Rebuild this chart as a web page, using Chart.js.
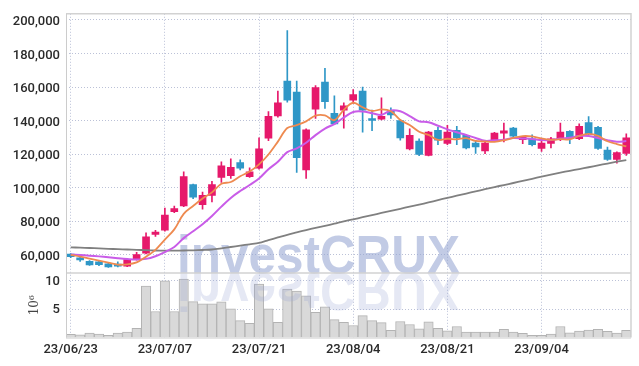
<!DOCTYPE html>
<html><head><meta charset="utf-8">
<script src="https://cdn.jsdelivr.net/npm/chart.js@4.4.0/dist/chart.umd.min.js"></script>
<style>html,body{margin:0;padding:0;background:#fff;}#wrap{width:639px;height:366px;position:relative;}</style>
</head><body><div id="wrap"><canvas id="c" width="639" height="366" style="width:639px;height:366px"></canvas></div>
<script>
const dates = ['23/06/23','23/06/26','23/06/27','23/06/28','23/06/29','23/06/30','23/07/03','23/07/04','23/07/05','23/07/06',
'23/07/07','23/07/10','23/07/11','23/07/12','23/07/13','23/07/14','23/07/17','23/07/18','23/07/19','23/07/20',
'23/07/21','23/07/24','23/07/25','23/07/26','23/07/27','23/07/28','23/07/31','23/08/01','23/08/02','23/08/03',
'23/08/04','23/08/07','23/08/08','23/08/09','23/08/10','23/08/11','23/08/14','23/08/16','23/08/17','23/08/18',
'23/08/21','23/08/22','23/08/23','23/08/24','23/08/25','23/08/28','23/08/29','23/08/30','23/08/31','23/09/01',
'23/09/04','23/09/05','23/09/06','23/09/07','23/09/08','23/09/11','23/09/12','23/09/13','23/09/14','23/09/15'];
const tickDates = ['23/06/23','23/07/07','23/07/21','23/08/04','23/08/21','23/09/04'];
const opens = [60300,57600,56000,55600,54400,54300,53000,57100,60800,72000,74500,85600,89000,101800,89800,95300,106100,107100,114900,106500,111500,129400,142700,163500,157000,110500,146700,162900,144300,146200,152100,157600,141200,140800,145900,140000,123000,127700,119200,134100,126300,134100,131200,126600,121800,128600,132500,135500,128600,129000,123300,126300,128600,133500,129200,138800,136000,122400,116800,120400];
const highs = [60600,58300,56400,56200,54800,55600,57600,61300,72900,74400,87800,88900,109400,102000,97300,103700,115300,117200,116500,111800,129600,145300,157600,193700,163500,135000,160800,171200,154700,150600,158400,160000,146200,153500,147600,140500,135100,129000,133600,135900,137100,136500,131500,128200,127200,133000,138400,136000,130500,131500,127500,130000,138400,134000,138000,142300,136500,124200,121300,132000];
const lows = [58200,55900,53500,53400,52300,52600,52800,56600,60400,70800,74000,85000,88600,93300,87100,91400,103100,105500,110500,106000,111000,128000,142000,151000,109000,105500,141300,147200,137500,135500,150200,133000,133900,140400,141300,128200,122500,119000,118800,125600,125600,125600,123000,120400,120200,128000,127200,130000,126200,124800,121500,123600,128000,126200,128500,131500,122800,116200,114500,119200];
const closes = [58700,56800,53800,53900,52600,53100,57000,60000,70600,73400,83500,87500,106500,94300,95300,101800,113000,112000,111500,109400,123100,142500,150600,152100,117800,134500,159600,151200,138000,148800,155500,146200,140000,142500,143300,129600,131200,119800,133100,128200,133100,129600,123700,124300,126600,132500,133900,130600,130000,125600,126600,129000,133100,129200,136500,132100,123300,116800,120800,129600];
const volumes = [0.56,0.49,0.78,0.61,0.38,0.78,0.96,1.6,9.1,4.6,10.0,4.6,10.3,6.35,5.95,5.95,6.3,5.08,2.99,2.52,9.43,5.08,2.7,8.56,8.2,7.34,4.44,5.43,3.17,2.7,2.12,3.86,2.99,2.64,1.25,2.82,2.3,1.55,2.75,1.6,1.18,1.95,0.96,0.96,0.96,0.96,1.43,0.96,0.73,0.38,0.38,0.61,1.95,0.84,1.13,1.3,1.43,1.08,0.78,1.25];
const ma5 = [59800,58800,57600,56400,55200,54000,54100,55300,58700,62800,68900,75000,84300,89000,93400,97100,102200,103300,106700,109500,113800,119700,127400,135500,137200,139500,142900,143000,140200,146400,150600,147900,145700,146600,145500,140300,137300,133300,131400,128400,129100,128800,129500,127800,127500,127300,128200,129600,130700,130500,129300,128400,128900,128700,130900,132000,130800,127600,125900,124500];
const ma10 = [60000,59700,59300,58900,58400,57800,57300,57000,57400,59000,61500,64500,69800,73900,78100,83000,88600,93800,97900,101500,105400,110900,115400,121100,123400,126700,131300,135200,137900,141800,145100,145400,144400,143400,146000,145500,142600,139500,139000,136900,134700,133000,131400,129600,127900,128200,128500,129600,129300,129000,128300,128300,129200,129700,130700,130700,129600,128200,127300,127700];
const maLong = [64300,64100,63900,63700,63400,63200,63000,62800,62600,62400,62300,62300,62400,62500,62700,63000,63700,64500,65300,66100,66900,68600,70200,71800,73200,74600,75900,77100,78400,79800,81000,82300,83500,84800,86100,87300,88600,89800,91100,92500,93800,95100,96400,97700,99000,100300,101500,102700,104000,105200,106500,107700,108900,110000,111000,112100,113200,114300,115400,116400];
const priceTicks = [60000,80000,100000,120000,140000,160000,180000,200000];
const volTicks = [5,10];

const UP = '#e6196b', DOWN = '#2f97c7';
const candleColors = opens.map((o,i)=> closes[i] >= o ? UP : DOWN);
const gridColor = 'rgba(175,182,208,0.85)';
const tickFont = {family:'Roboto', size:13, weight:'500'};

const chrome = {
  id:'chrome',
  beforeDatasetsDraw(chart){
    const {ctx, chartArea:a} = chart;
    const base = chart.scales.yVol.top;
    ctx.save();
    ctx.font = 'bold 54px "Liberation Sans", Arial, sans-serif';
    const w = ctx.measureText('investCRUX').width;
    ctx.translate(a.left + 111, base);
    ctx.scale(283 / w, 1);
    ctx.fillStyle = 'rgba(150,165,210,0.58)';
    ctx.textBaseline = 'alphabetic';
    ctx.fillText('investCRUX', 0, 0);
    ctx.restore();
  },
  afterDatasetsDraw(chart){
    const {ctx, chartArea:a} = chart;
    const base = chart.scales.yVol.top;
    ctx.save();
    ctx.beginPath(); ctx.rect(a.left, base, a.width, a.bottom - base); ctx.clip();
    ctx.font = 'bold 54px "Liberation Sans", Arial, sans-serif';
    const w = ctx.measureText('investCRUX').width;
    ctx.translate(a.left + 111, base);
    ctx.scale(283 / w, -1);
    ctx.fillStyle = 'rgba(150,165,210,0.25)';
    ctx.fillText('investCRUX', 0, 0);
    ctx.restore();
  },
  afterDraw(chart){
    const {ctx, chartArea:a} = chart;
    const yv = chart.scales.yVol;
    ctx.save();
    ctx.strokeStyle = '#d2d2d2'; ctx.lineWidth = 1.5;
    ctx.beginPath(); ctx.moveTo(a.left, a.top); ctx.lineTo(a.right, a.top); ctx.lineTo(a.right, a.bottom); ctx.stroke();
    ctx.beginPath(); ctx.moveTo(a.left, yv.top); ctx.lineTo(a.right, yv.top); ctx.stroke();
    ctx.strokeStyle = '#cccccc'; ctx.lineWidth = 1;
    ctx.beginPath(); ctx.moveTo(a.left + 0.5, a.top); ctx.lineTo(a.left + 0.5, a.bottom); ctx.stroke();
    ctx.beginPath(); ctx.moveTo(a.left, a.bottom + 0.5); ctx.lineTo(a.right, a.bottom + 0.5); ctx.stroke();
    ctx.restore();
  }
};

new Chart(document.getElementById('c'), {
  type:'bar',
  data:{
    labels: dates,
    datasets:[
      {type:'line', label:'MA5', data: ma5, borderColor:'#ee8a50', borderWidth:1.8, pointRadius:0, tension:0.35, yAxisID:'y', order:1},
      {type:'line', label:'MA10', data: ma10, borderColor:'#c95ce8', borderWidth:2, pointRadius:0, tension:0.35, yAxisID:'y', order:1},
      {type:'line', label:'MA long', data: maLong, borderColor:'#808080', borderWidth:1.8, pointRadius:0, tension:0.3, yAxisID:'y', order:1},
      {label:'body', data: opens.map((o,i)=>[o, closes[i]]), backgroundColor: candleColors, barThickness:7, minBarLength:2, grouped:false, yAxisID:'y', order:2},
      {label:'wick', data: lows.map((l,i)=>[l, highs[i]]), backgroundColor: candleColors, barThickness:1, grouped:false, yAxisID:'y', order:3},
      {label:'volume', data: volumes, backgroundColor:'#d9d9d9', borderColor:'#b3b3b3', borderWidth:1, barPercentage:1, categoryPercentage:1, grouped:false, yAxisID:'yVol', order:5}
    ]
  },
  options:{
    responsive:false, animation:false,
    devicePixelRatio:1,
    layout:{padding:{top:9, right:8, left:0, bottom:0}},
    plugins:{legend:{display:false}, tooltip:{enabled:false}},
    scales:{
      x:{
        offset:true,
        grid:{offset:false, color:gridColor, drawTicks:false},
        border:{display:false, dash:[1,2]},
        ticks:{autoSkip:false, maxRotation:0, padding:4, font:tickFont, color:'#2a2a2a'},
        afterBuildTicks(s){ s.ticks = s.ticks.filter(t => tickDates.includes(dates[t.value])); },
        afterFit(s){ s.height = 28.5; }
      },
      yVol:{
        position:'left', stack:'panes', stackWeight:65.5,
        min:0, max:11.4,
        grid:{color:gridColor, drawTicks:false},
        border:{display:false, dash:[1,2]},
        ticks:{padding:6, font:tickFont, color:'#2a2a2a', labelOffset:1},
        afterBuildTicks(s){ s.ticks = volTicks.map(v=>({value:v})); },
        title:{display:true, text:'10⁶', font:{family:'DejaVu Serif', size:12}, color:'#444', padding:{top:28, bottom:0}},
        afterFit(s){ s.width = 66; }
      },
      y:{
        position:'left', stack:'panes', stackWeight:263,
        min:49000, max:203700,
        grid:{color:gridColor, drawTicks:false},
        border:{display:false, dash:[1,2]},
        ticks:{padding:6, font:tickFont, color:'#2a2a2a', labelOffset:2, callback:v=>v.toLocaleString('en-US')},
        afterBuildTicks(s){ s.ticks = priceTicks.map(v=>({value:v})); },
        afterFit(s){ s.width = 66; }
      }
    }
  },
  plugins:[chrome]
});
</script></body></html>
